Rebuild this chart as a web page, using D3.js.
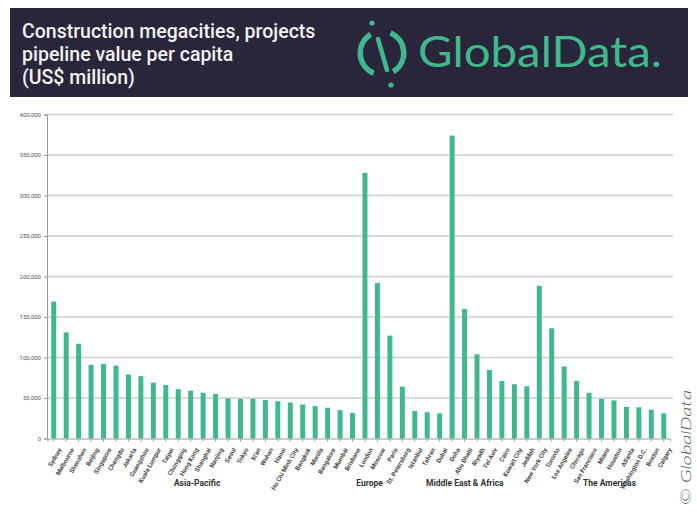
<!DOCTYPE html>
<html>
<head>
<meta charset="utf-8">
<script src="https://cdn.jsdelivr.net/npm/d3@7"></script>
<style>
  body { margin: 0; background: #fff; }
  svg { display: block; }
</style>
</head>
<body>
<svg width="697" height="518"></svg>
<script>
// city names, left to right
const cities = [
  "Sydney", "Melbourne", "Shenzhen", "Beijing", "Singapore", "Chengdu", "Jakarta",
  "Guangzhou", "Kuala Lumpur", "Taipei", "Chongqing", "Hong Kong", "Shanghai",
  "Nanjing", "Seoul", "Tokyo", "Xi'an", "Wuhan", "Hanoi", "Ho Chi Minh City",
  "Bangkok", "Manila", "Bangalore", "Mumbai", "Brisbane",
  "London", "Moscow", "Paris", "St. Petersburg",
  "Istanbul", "Tehran", "Dubai", "Doha", "Abu Dhabi", "Riyadh", "Tel Aviv",
  "Cairo", "Kuwait City", "Jeddah",
  "New York City", "Toronto", "Los Angeles", "Chicago", "San Francisco", "Miami",
  "Houston", "Atlanta", "Washington D.C.", "Boston", "Calgary"
];
// pipeline value per capita (US$ million)
const values = [
  169000, 131000, 117000, 91000, 92000, 90000, 79000,
  77000, 69000, 66000, 61000, 59000, 56500,
  55000, 49500, 49000, 49000, 47500, 46000, 44500,
  42000, 40000, 38000, 35000, 31500,
  328000, 192000, 127000, 64000,
  34000, 32500, 31000, 374000, 160000, 104000, 84500,
  71000, 67000, 64500,
  188500, 136000, 89000, 71000, 56500, 49000,
  47000, 39000, 38500, 35500, 31000
];
const regions = ["Asia-Pacific", "Europe", "Middle East & Africa", "The Americas"];
const regionSizes = [25, 4, 10, 11];
const yTicks = [0, 50000, 100000, 150000, 200000, 250000, 300000, 350000, 400000];

const data = cities.map((c, i) => ({ city: c, value: values[i] }));

const svg = d3.select("svg");
const green = "#3fb98b";

// header band
svg.append("rect")
  .attr("x", 10).attr("y", 8)
  .attr("width", 678).attr("height", 89)
  .attr("fill", "#29253a");

const titleLines = ["Construction megacities, projects", "pipeline value per capita", "(US$ million)"];
svg.append("g")
  .selectAll("text")
  .data(titleLines)
  .join("text")
  .attr("x", 22)
  .attr("y", (d, i) => 38 + i * 23)
  .attr("fill", "#f2f2f2")
  .style("font-family", "Roboto, sans-serif")
  .style("font-weight", 500)
  .style("font-size", "19.5px")
  .text(d => d);

// logo
const logo = svg.append("g").attr("transform", "translate(382,53)");
const arc = d3.arc().innerRadius(19).outerRadius(24.5);
logo.append("path")
  .attr("d", arc({ startAngle: -2.75, endAngle: -0.55 }))
  .attr("fill", green);
logo.append("path")
  .attr("d", arc({ startAngle: 0.4, endAngle: 2.6 }))
  .attr("fill", green);
logo.append("line")
  .attr("x1", -4).attr("y1", -14).attr("x2", 5).attr("y2", 17)
  .attr("stroke", green).attr("stroke-width", 4.5).attr("stroke-linecap", "round");
logo.append("circle").attr("cx", -10).attr("cy", -30).attr("r", 2.6).attr("fill", green);
logo.append("circle").attr("cx", 9).attr("cy", 32).attr("r", 2.6).attr("fill", green);

const brand = svg.append("text")
  .attr("x", 418).attr("y", 67)
  .attr("fill", green)
  .style("font-family", "Lato, sans-serif")
  .style("font-size", "43px")
  .text("GlobalData.");
brand.attr("textLength", 244).attr("lengthAdjust", "spacingAndGlyphs");

// chart
const x = d3.scaleBand()
  .domain(cities)
  .range([47.5, 670])
  .paddingInner(0.6)
  .paddingOuter(0.3);

const y = d3.scaleLinear()
  .domain([0, 400000])
  .range([438.5, 114.5]);

// grid
svg.append("g")
  .selectAll("line")
  .data(yTicks.slice(1))
  .join("line")
  .attr("x1", 47).attr("x2", 673)
  .attr("y1", d => y(d)).attr("y2", d => y(d))
  .attr("stroke", "#cfcfcf")
  .attr("stroke-width", 1.3);

const yAxis = svg.append("g")
  .attr("transform", "translate(47,0)")
  .call(d3.axisLeft(y).tickValues(yTicks).tickFormat(d3.format(",")).tickSize(3));
yAxis.select(".domain").attr("stroke", "#9a9a9a");
yAxis.selectAll(".tick line").attr("stroke", "#9a9a9a");
yAxis.selectAll("text")
  .attr("fill", "#555")
  .style("font-family", "Roboto, sans-serif")
  .style("font-size", "6px");

// bars
svg.append("g")
  .selectAll("rect")
  .data(data)
  .join("rect")
  .attr("x", d => x(d.city))
  .attr("y", d => y(d.value))
  .attr("width", x.bandwidth())
  .attr("height", d => y(0) - y(d.value))
  .attr("fill", green);

const xAxis = svg.append("g")
  .attr("transform", `translate(0,${y(0)})`)
  .call(d3.axisBottom(x).tickSize(3));
xAxis.select(".domain").attr("stroke", "#9a9a9a");
xAxis.selectAll(".tick line").attr("stroke", "#9a9a9a");
xAxis.selectAll("text")
  .attr("fill", "#4a4a4a")
  .style("font-family", "Roboto, sans-serif")
  .style("font-size", "6.3px")
  .style("font-weight", 700)
  .attr("text-anchor", "end")
  .attr("dx", 0)
  .attr("dy", 0)
  .attr("transform", "translate(3,8) rotate(-60)");

// region labels, centred on each group and nudged toward the reference spots
const regionNudge = [-6, -14, -6, 8];
let start = 0;
const regionPos = regionSizes.map((n, i) => {
  const a = x(cities[start]);
  const b = x(cities[start + n - 1]) + x.bandwidth();
  start += n;
  return { name: regions[i], cx: (a + b) / 2 + regionNudge[i] };
});
svg.append("g")
  .selectAll("text")
  .data(regionPos)
  .join("text")
  .attr("x", d => d.cx)
  .attr("y", 486)
  .attr("text-anchor", "middle")
  .attr("fill", "#333")
  .style("font-family", "Roboto, sans-serif")
  .style("font-weight", 700)
  .style("font-size", "8.5px")
  .text(d => d.name);

// copyright
svg.append("text")
  .attr("transform", "translate(691,505) rotate(-90)")
  .attr("fill", "#555")
  .style("font-family", "Lato, sans-serif")
  .style("font-style", "italic")
  .style("font-weight", 300)
  .style("font-size", "13px")
  .attr("textLength", 115)
  .attr("lengthAdjust", "spacingAndGlyphs")
  .text("© GlobalData");
</script>
</body>
</html>
